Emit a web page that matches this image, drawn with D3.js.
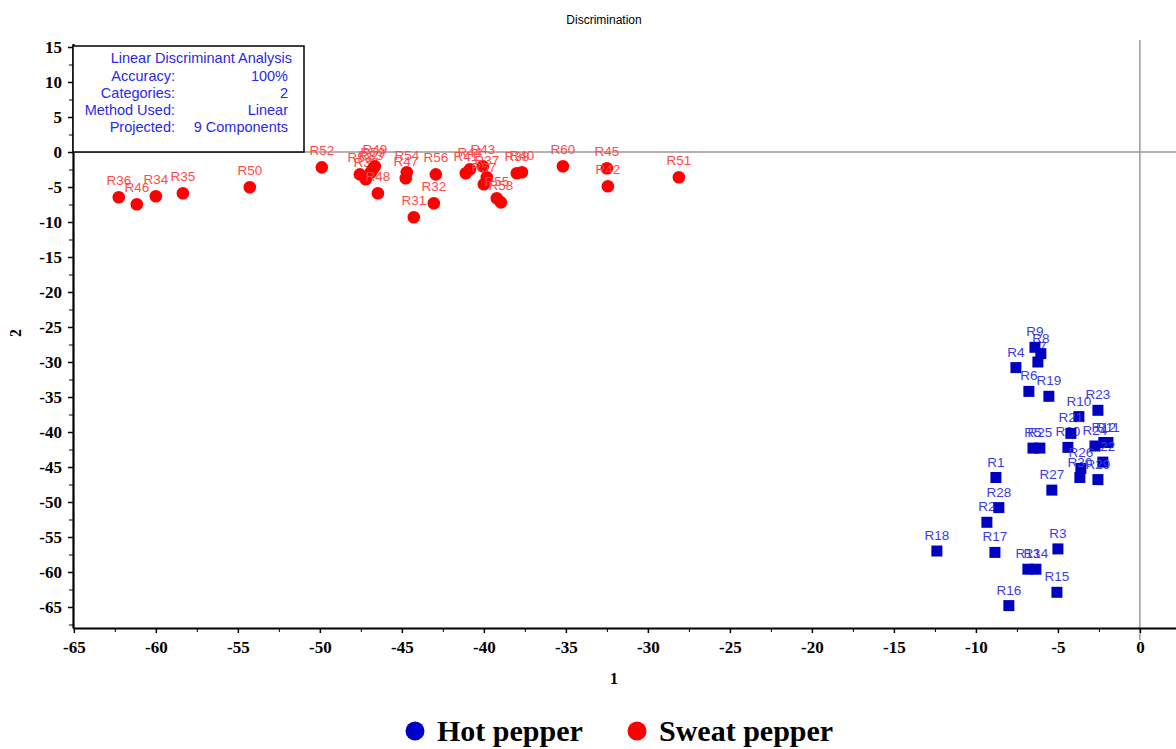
<!DOCTYPE html>
<html>
<head>
<meta charset="utf-8">
<script src="https://cdn.jsdelivr.net/npm/d3@7"></script>
<style>
  body { margin: 0; background: #fff; }
  .tick text { font-family: "Liberation Serif", "Times New Roman", serif; font-weight: bold; font-size: 17px; fill: #000; }
  .axis path, .axis line { stroke: #000; }
</style>
</head>
<body>
<div class="lda-plot"></div>
<script>
const width = 1176;
const height = 749;

// Sweat pepper samples
const sweatNames = ['R36','R46','R34','R35','R50','R52','R53','R39','R33','R59','R49','R48','R54','R47','R56',
    'R32','R31','R41','R44','R43','R37','R57','R55','R58','R38','R40','R60','R45','R42','R51'];
const sweatX = [-62.26,-61.16,-60.0,-58.35,-54.27,-49.88,-47.56,-47.20,-46.89,-46.77,-46.65,-46.46,-44.70,-44.76,-42.93,
    -43.05,-44.27,-41.10,-40.85,-40.06,-39.82,-40.0,-39.21,-38.96,-37.99,-37.68,-35.18,-32.50,-32.44,-28.11];
const sweatY = [-6.47,-7.47,-6.33,-5.90,-5.04,-2.19,-3.19,-3.90,-2.90,-2.47,-2.04,-5.90,-2.90,-3.76,-3.19,
    -7.33,-9.33,-3.04,-2.47,-2.04,-3.61,-4.61,-6.61,-7.19,-3.04,-2.90,-2.04,-2.33,-4.90,-3.61];

// Hot pepper samples
const hotNames = ['R1','R2','R3','R4','R5','R6','R7','R8','R9','R10','R11','R12','R13','R14','R15',
    'R16','R17','R18','R19','R20','R21','R22','R23','R24','R25','R26','R27','R28','R29','R30'];
const hotX = [-8.78,-9.33,-5.0,-7.56,-6.52,-6.77,-6.22,-6.04,-6.40,-3.72,-1.95,-2.20,-6.83,-6.34,-5.06,
    -7.99,-8.84,-12.38,-5.55,-4.39,-4.21,-2.26,-2.56,-2.74,-6.10,-3.60,-5.37,-8.60,-2.56,-3.66];
const hotY = [-46.5,-52.9,-56.7,-30.8,-42.3,-34.2,-30.0,-28.8,-27.9,-37.8,-41.5,-41.5,-59.6,-59.6,-62.9,
    -64.8,-57.2,-57.0,-34.9,-42.2,-40.2,-44.3,-36.9,-42.0,-42.3,-45.2,-48.3,-50.8,-46.8,-46.5];

const xTicks = [-65,-60,-55,-50,-45,-40,-35,-30,-25,-20,-15,-10,-5,0];
const yTicks = [15,10,5,0,-5,-10,-15,-20,-25,-30,-35,-40,-45,-50,-55,-60,-65];

const infoLabels = ['Accuracy:','Categories:','Method Used:','Projected:'];
const infoValues = ['100%','2','Linear','9 Components'];

const legendNames = ['Hot pepper','Sweat pepper'];
const legendColors = ['#0000c8','#ff0000'];

const sweat = sweatNames.map((n, i) => ({name: n, x: sweatX[i], y: sweatY[i]}));
const hot = hotNames.map((n, i) => ({name: n, x: hotX[i], y: hotY[i]}));

const svg = d3.select('.lda-plot')
    .append('svg')
    .attr('width', width)
    .attr('height', height)

const yMin = -68;
const x = d3.scaleLinear().domain([-65.05, 2.2]).range([73, 1176]);
const y = d3.scaleLinear().domain([yMin, 15.5]).range([628, 43.5]);

// title
svg.append('text')
    .attr('x', 604).attr('y', 24)
    .attr('text-anchor', 'middle')
    .attr('font-family', 'Liberation Sans, Arial, sans-serif')
    .attr('font-size', 12)
    .text('Discrimination')

// zero lines
svg.append('line')
    .attr('x1', x(-65.05)).attr('x2', x(2.2))
    .attr('y1', y(0)).attr('y2', y(0))
    .attr('stroke', '#9a9a9a').attr('stroke-width', 1.5)
svg.append('line')
    .attr('x1', x(0)).attr('x2', x(0))
    .attr('y1', 40).attr('y2', 640)
    .attr('stroke', '#9a9a9a').attr('stroke-width', 1.5)

// axes, major and minor ticks
const fmt = d => String(d);
const xMinor = xTicks.map(d => d + 2.5).filter(d => d < 2.2);
const yMinor = yTicks.map(d => d - 2.5).filter(d => d > yMin);

svg.append('g').attr('class', 'axis')
    .attr('transform', `translate(0,${y(yMin)})`)
    .call(d3.axisBottom(x).tickValues(xMinor).tickSize(4).tickFormat(''))
    .call(g => g.select('.domain').remove())
svg.append('g').attr('class', 'axis')
    .attr('transform', `translate(0,${y(yMin)})`)
    .call(d3.axisBottom(x).tickValues(xTicks).tickSize(5).tickPadding(8).tickFormat(fmt).tickSizeOuter(0))
    .call(g => g.select('.domain').attr('stroke-width', 2.2))
    .call(g => g.selectAll('.tick line').attr('stroke-width', 1.5))

svg.append('g').attr('class', 'axis')
    .attr('transform', `translate(${x(-65.05)},0)`)
    .call(d3.axisLeft(y).tickValues(yMinor).tickSize(4).tickFormat(''))
    .call(g => g.select('.domain').remove())
svg.append('g').attr('class', 'axis')
    .attr('transform', `translate(${x(-65.05)},0)`)
    .call(d3.axisLeft(y).tickValues(yTicks).tickSize(5).tickPadding(6).tickFormat(fmt).tickSizeOuter(0))
    .call(g => g.select('.domain').attr('stroke-width', 2.2))
    .call(g => g.selectAll('.tick line').attr('stroke-width', 1.5))

// axis titles
svg.append('text')
    .attr('x', 614).attr('y', 684)
    .attr('text-anchor', 'middle')
    .attr('font-family', 'Liberation Serif, serif')
    .attr('font-weight', 'bold')
    .attr('font-size', 16)
    .text('1')
svg.append('text')
    .attr('transform', 'translate(21,333) rotate(-90)')
    .attr('text-anchor', 'middle')
    .attr('font-family', 'Liberation Serif, serif')
    .attr('font-weight', 'bold')
    .attr('font-size', 16)
    .text('2')

// info box
const infoFont = 14.5;
const box = svg.append('g')
box.append('rect')
    .attr('x', x(-65.05)).attr('y', 46)
    .attr('width', 304 - x(-65.05)).attr('height', y(0) - 46)
    .attr('fill', '#fff')
    .attr('stroke', '#000').attr('stroke-width', 1.5)
box.append('text')
    .attr('x', 292).attr('y', 63)
    .attr('text-anchor', 'end')
    .attr('font-family', 'Liberation Sans, Arial, sans-serif')
    .attr('font-size', infoFont)
    .attr('fill', '#2a2ae6')
    .text('Linear Discriminant Analysis')
box.selectAll('.lab')
    .data(infoLabels)
    .enter()
    .append('text')
    .attr('x', 175)
    .attr('y', (d, i) => 80.5 + i * 17.3)
    .attr('text-anchor', 'end')
    .attr('font-family', 'Liberation Sans, Arial, sans-serif')
    .attr('font-size', infoFont)
    .attr('fill', '#2a2ae6')
    .text(d => d)
box.selectAll('.val')
    .data(infoValues)
    .enter()
    .append('text')
    .attr('x', 288)
    .attr('y', (d, i) => 80.5 + i * 17.3)
    .attr('text-anchor', 'end')
    .attr('font-family', 'Liberation Sans, Arial, sans-serif')
    .attr('font-size', infoFont)
    .attr('fill', '#2a2ae6')
    .text(d => d)

// sweat pepper points
const sweatG = svg.selectAll('.sweat')
    .data(sweat)
    .enter()
    .append('g')
    .attr('transform', d => `translate(${x(d.x)},${y(d.y)})`)
sweatG.append('circle')
    .attr('r', 6.3)
    .attr('fill', '#ff0000')
sweatG.append('text')
    .attr('text-anchor', 'middle')
    .attr('dy', -12)
    .attr('font-family', 'Liberation Sans, Arial, sans-serif')
    .attr('font-size', 13.5)
    .attr('fill', '#ff4a4a')
    .text(d => d.name)

// hot pepper points
const hotG = svg.selectAll('.hot')
    .data(hot)
    .enter()
    .append('g')
    .attr('transform', d => `translate(${x(d.x)},${y(d.y)})`)
hotG.append('rect')
    .attr('x', -5.5).attr('y', -5.5)
    .attr('width', 11).attr('height', 11)
    .attr('fill', '#0000c0')
hotG.append('text')
    .attr('text-anchor', 'middle')
    .attr('dy', -11)
    .attr('font-family', 'Liberation Sans, Arial, sans-serif')
    .attr('font-size', 13.5)
    .attr('fill', '#3c3ce6')
    .text(d => d.name)

// legend
const legendX = [415, 637];
const leg = svg.selectAll('.legend')
    .data(legendNames)
    .enter()
    .append('g')
    .attr('transform', (d, i) => `translate(${legendX[i]},731)`)
leg.append('circle')
    .attr('r', 9.5)
    .attr('fill', (d, i) => legendColors[i])
leg.append('text')
    .attr('x', 22)
    .attr('y', 10)
    .attr('font-family', 'Liberation Serif, serif')
    .attr('font-weight', 'bold')
    .attr('font-size', 30)
    .text(d => d)
</script>
</body>
</html>
